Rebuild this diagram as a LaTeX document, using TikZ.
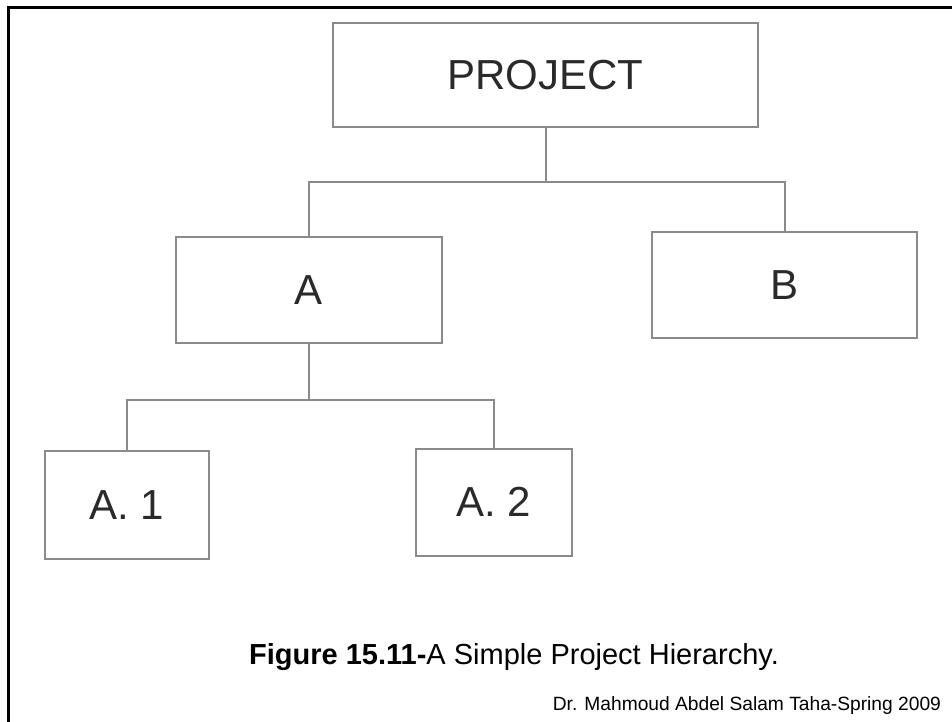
\documentclass[tikz,border=0pt]{standalone}
\usepackage{fontspec}
\setmainfont{Liberation Sans}
\definecolor{boxline}{HTML}{8A8A8A}
\definecolor{boxtext}{HTML}{2A2A2A}
\tikzset{
  wbs/.style={shape=rectangle,draw=boxline,line width=1pt,text=boxtext,
    font=\fontsize{21}{25}\selectfont,inner sep=0pt},
  link/.style={draw=boxline,line width=1pt}
}
\begin{document}
\begin{tikzpicture}[x=0.5pt,y=-0.5pt]
            \useasboundingbox (0,0) rectangle (952,722);
            \draw[line width=1.5pt] (952,8) -- (8,8) -- (8,722);

            \node[wbs,minimum width=212.5pt,minimum height=52pt] (P) at (545.5,75) {PROJECT};
            \node[wbs,minimum width=133pt,minimum height=53pt] (A) at (309,290) {A};
            \node[wbs,minimum width=132.5pt,minimum height=53pt] (B) at (784.5,285) {B};
            \node[wbs,minimum width=82pt,minimum height=54pt] (A1) at (127,505) {A. 1};
            \node[wbs,minimum width=78pt,minimum height=53.5pt] (A2) at (494,502) {A. 2};

            \coordinate (PAB) at (545.5,182);
            \coordinate (AA) at (309,400);

            \path [link] (P.south) -- (PAB);
            \path [link] (A.north) |- (PAB) -| (B.north);
            \path [link] (A.south) -- (AA);
            \path [link] (A1.north) |- (AA) -| (A2.north);

            \node[font=\fontsize{14.5}{17}\selectfont] (cap) at (514,657)
              {\textbf{Figure 15.11-}A Simple Project Hierarchy.};
            \node[font=\fontsize{9.6}{11}\selectfont,anchor=east] (foot) at (948,706)
              {Dr. Mahmoud Abdel Salam Taha-Spring 2009};
        \end{tikzpicture}
\end{document}
